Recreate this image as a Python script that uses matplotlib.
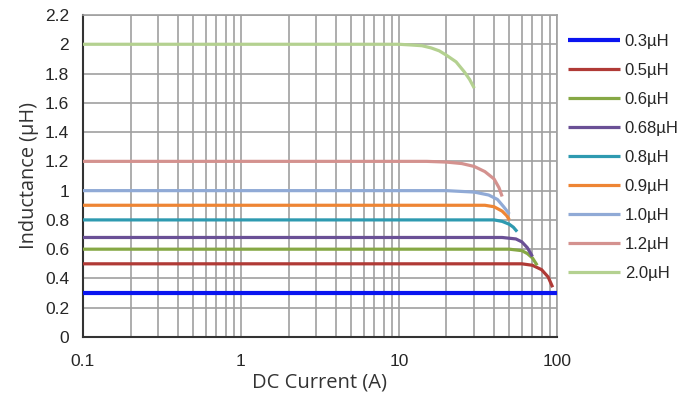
import matplotlib
matplotlib.use("Agg")
import matplotlib.pyplot as plt
from matplotlib.ticker import FixedLocator, LogLocator, NullFormatter, FixedFormatter

plt.rcParams['font.family'] = ['Liberation Sans', 'DejaVu Sans']

labels = ["0.3µH", "0.5µH", "0.6µH", "0.68µH", "0.8µH", "0.9µH", "1.0µH", "1.2µH", "2.0µH"]
colors = ["#0A14F0", "#B03A36", "#86A845", "#6A5096", "#2E9AB0", "#EE8534", "#90AAD6", "#D4928F", "#B4D190"]

i_03 = [0.1, 100]
l_03 = [0.3, 0.3]
i_05 = [0.1, 60, 70, 80, 88, 94]
l_05 = [0.5, 0.5, 0.49, 0.46, 0.41, 0.34]
i_06 = [0.1, 50, 60, 65, 70, 75]
l_06 = [0.6, 0.6, 0.59, 0.57, 0.54, 0.49]
i_068 = [0.1, 45, 55, 60, 65, 70]
l_068 = [0.68, 0.68, 0.67, 0.65, 0.61, 0.55]
i_08 = [0.1, 40, 45, 50, 53, 56]
l_08 = [0.8, 0.8, 0.79, 0.77, 0.75, 0.72]
i_09 = [0.1, 35, 40, 45, 48, 50]
l_09 = [0.9, 0.9, 0.89, 0.86, 0.83, 0.80]
i_10 = [0.1, 20, 30, 37, 42, 46, 50]
l_10 = [1.0, 1.0, 0.99, 0.97, 0.94, 0.89, 0.84]
i_12 = [0.1, 15, 20, 25, 30, 35, 40, 43, 45]
l_12 = [1.2, 1.2, 1.195, 1.185, 1.165, 1.13, 1.08, 1.02, 0.96]
i_20 = [0.1, 10, 12, 14, 16, 18, 20, 23, 26, 28, 30]
l_20 = [2.0, 2.0, 1.995, 1.99, 1.975, 1.955, 1.925, 1.88, 1.81, 1.76, 1.70]

series = [(i_03, l_03), (i_05, l_05), (i_06, l_06), (i_068, l_068), (i_08, l_08),
          (i_09, l_09), (i_10, l_10), (i_12, l_12), (i_20, l_20)]

y_ticks = [0, 0.2, 0.4, 0.6, 0.8, 1, 1.2, 1.4, 1.6, 1.8, 2, 2.2]
y_ticklabels = ["0", "0.2", "0.4", "0.6", "0.8", "1", "1.2", "1.4", "1.6", "1.8", "2", "2.2"]
x_ticks = [0.1, 1, 10, 100]
x_ticklabels = ["0.1", "1", "10", "100"]

fig = plt.figure(figsize=(6.78, 4.01), dpi=100)
ax = fig.add_axes([0.1224, 0.1596, 0.699, 0.803])

for (x, y), c, lab in zip(series, colors, labels):
    lw = 3.0 if lab == "0.3µH" else 2.3
    ax.plot(x, y, color=c, lw=lw, label=lab, solid_capstyle='butt', zorder=3)

ax.set_xscale('log')
ax.set_xlim(0.1, 100)
ax.set_ylim(0, 2.2)
ax.xaxis.set_major_locator(FixedLocator(x_ticks))
ax.xaxis.set_major_formatter(FixedFormatter(x_ticklabels))
ax.xaxis.set_minor_locator(LogLocator(base=10, subs=range(2, 10)))
ax.xaxis.set_minor_formatter(NullFormatter())
ax.yaxis.set_major_locator(FixedLocator(y_ticks))
ax.yaxis.set_major_formatter(FixedFormatter(y_ticklabels))

ax.grid(True, which='major', axis='both', color='#A0A0A0', lw=1.2)
ax.grid(True, which='minor', axis='x', color='#A0A0A0', lw=1.2)
ax.tick_params(which='both', length=0, labelsize=12.5, colors='#262626')
ax.tick_params(axis='x', pad=12)
ax.tick_params(axis='y', pad=10)

for s in ['top', 'right']:
    ax.spines[s].set_color('#A0A0A0')
    ax.spines[s].set_linewidth(1.2)
for s in ['left', 'bottom']:
    ax.spines[s].set_color('#333333')
    ax.spines[s].set_linewidth(1.5)

ax.set_xlabel("DC Current (A)", fontsize=14.5, color='#333333', labelpad=3,
              family=['Open Sans', 'DejaVu Sans'])
ax.set_ylabel("Inductance (µH)", fontsize=14.3, color='#333333', labelpad=4,
              family=['Open Sans', 'DejaVu Sans'])

leg = ax.legend(loc='upper left', bbox_to_anchor=(1.023, 0.9416), frameon=False,
                fontsize=12, handlelength=3.12, handletextpad=0.3, labelspacing=0.84,
                borderaxespad=0, borderpad=0)
for t in leg.get_texts():
    t.set_color('#262626')

fig.savefig("out.png", dpi=100)
